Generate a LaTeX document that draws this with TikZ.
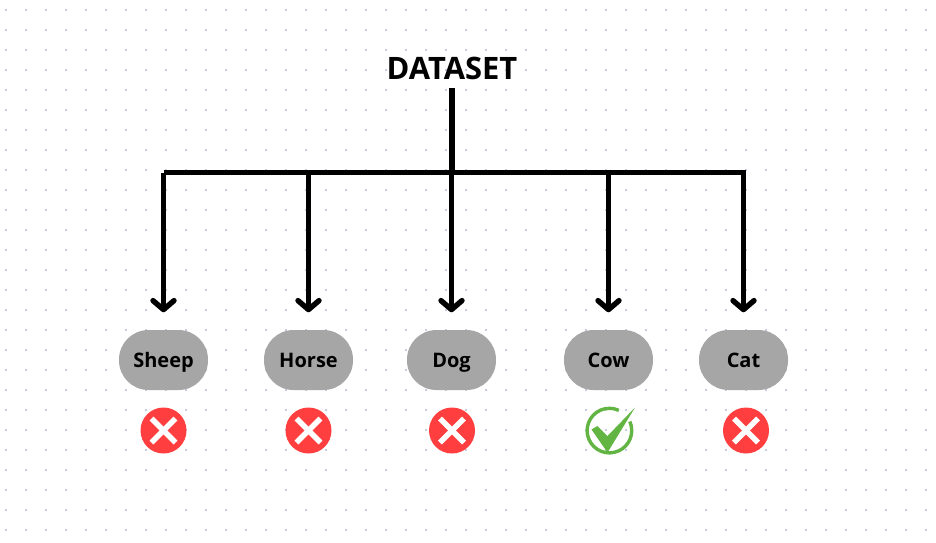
\documentclass[tikz,border=0pt]{standalone}
\usepackage{fontspec}
\setmainfont{Open Sans}
\usetikzlibrary{arrows.meta, positioning}
\definecolor{griddot}{HTML}{C6CCDE}
\definecolor{pillgray}{HTML}{A6A6A6}
\definecolor{wrongred}{HTML}{FF3F3F}
\definecolor{rightgreen}{HTML}{62B543}
\tikzset{x=1pt, y=-1pt,
    line/.style={line width=5.4pt, black},
    into/.style={line, -{Straight Barb[length=9pt, width=21pt, line width=5.4pt, round]}, shorten >=17.5pt},
    animal/.style={rectangle, rounded corners=29.5pt, fill=pillgray, minimum width=89pt, minimum height=60pt, inner sep=0pt, text height=14pt, text depth=0pt, font=\fontsize{20}{24}\selectfont\bfseries},
    title/.style={inner sep=0pt, text height=20.5pt, text depth=0pt, font=\fontsize{30.9}{36}\selectfont\bfseries},
    wrong/.style={circle, fill=wrongred, minimum size=46pt, inner sep=0pt, path picture={
        \draw[white, line width=5.6pt] ([shift={(-12pt,-12pt)}]path picture bounding box.center) -- ([shift={(12pt,12pt)}]path picture bounding box.center);
        \draw[white, line width=5.6pt] ([shift={(-12pt,12pt)}]path picture bounding box.center) -- ([shift={(12pt,-12pt)}]path picture bounding box.center);}},
    right mark/.style={circle, minimum size=48pt, inner sep=0pt},
}

\begin{document}
\begin{tikzpicture}
        \useasboundingbox (0,0) rectangle (936,542);
        \fill[white] (0,0) rectangle (936,542);
        \foreach \i in {0,...,46}
            \foreach \j in {0,...,26}
                \fill[griddot] (5+20*\i,9+20*\j) rectangle +(2,2);

        \node[title] (dataset) at (452,69) {DATASET};
        \coordinate (top) at (452,88);
        \coordinate (hub) at (452,172.5);
        \coordinate (busl) at (163.5,172.5);
        \coordinate (busr) at (746,172.5);

        \node[animal] (sheep) at (163.5,360) {Sheep};
        \node[animal] (horse) at (308.5,360) {Horse};
        \node[animal] (dog) at (451.5,360) {Dog};
        \node[animal] (cow) at (608.5,360) {Cow};
        \node[animal] (cat) at (743.5,360) {Cat};

        \node[wrong] (xsheep) at (163.5,430.5) {};
        \node[wrong] (xhorse) at (308.5,430.5) {};
        \node[wrong] (xdog) at (452,430.5) {};
        \node[right mark] (vcow) at (607.5,431.5) {};
        \node[wrong] (xcat) at (746,430.5) {};

        \draw[rightgreen, line width=3.4pt] (vcow.center) ++(22.3,-10) arc[start angle=24, end angle=-295, radius=22.3pt];
        \fill[rightgreen] (vcow.center) ++(-16,-2) -- ++(6,-3.5) -- ++(10,10) -- ++(27.5,-28.5) -- ++(-27.5,45) -- cycle;

        \draw[line] (top) -- (hub);
        \draw[line] (busl) -- (busr);
        \draw[into] (sheep |- hub) -- (sheep.north);
        \draw[into] (horse |- hub) -- (horse.north);
        \draw[into] (dog |- hub) -- (dog.north);
        \draw[into] (cow |- hub) -- (cow.north);
        \draw[into] (cat |- hub) -- (cat.north);
\end{tikzpicture}
\end{document}
